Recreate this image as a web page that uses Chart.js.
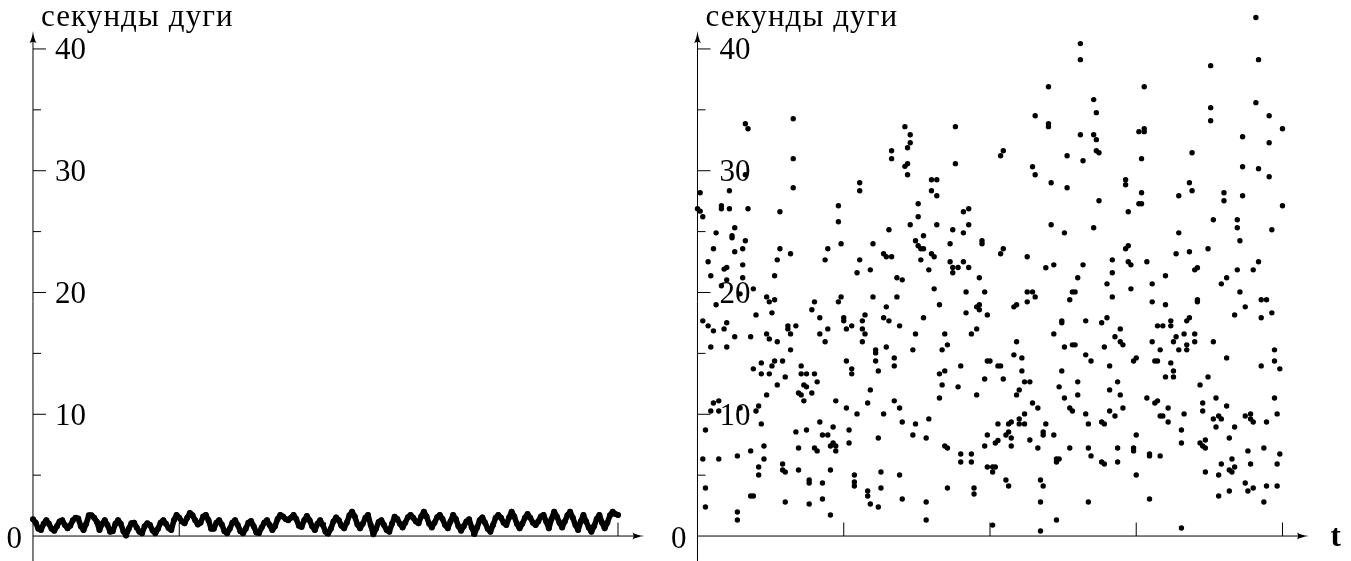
<!DOCTYPE html>
<html>
<head>
<meta charset="utf-8">
<title>секунды дуги</title>
<style>
  html, body { margin: 0; padding: 0; background: #fff; width: 1351px; height: 561px; overflow: hidden; }
  canvas { position: absolute; top: 0; }
  #left-chart  { left: 0; }
  #right-chart { left: 660px; }
</style>
<script src="https://cdn.jsdelivr.net/npm/chart.js@4/dist/chart.umd.min.js"></script>
</head>
<body>
<canvas id="left-chart" width="660" height="561"></canvas>
<canvas id="right-chart" width="691" height="561"></canvas>
<script>
// ------------------------------------------------------------------
// Data
// ------------------------------------------------------------------

const yTitle = "секунды дуги";
const xTitle = "t";
const yLabels = [0, 10, 20, 30, 40];
const yMinorTicks = [5, 15, 25, 35];
const xTicks = [55, 110, 165, 220];

// left panel: one value per time step, position in the array is t
const leftValues = [
  1.37,1.1,.6,.5,1.0,1.3,1.0,.6,.44,.8,1.2,1.3,.9,.63,.85,1.3,1.5,1.45,.8,.49,
  1.0,1.7,1.7,1.5,1.18,.5,1.0,1.3,.9,.35,.4,1.0,1.3,1.0,.4,.05,.6,1.05,1.1,.7,
  .35,.22,.8,1.05,.9,.45,.22,.6,1.1,1.3,1.0,.65,.5,1.3,1.73,1.5,1.2,1.04,1.5,1.9,
  1.7,1.3,.95,1.1,1.6,1.73,1.3,.6,.6,1.1,1.3,.95,.4,.22,.6,1.1,1.3,.9,.4,.22,
  .6,1.1,1.23,.8,.3,.25,.7,1.1,1.3,.9,.49,.8,1.4,1.73,1.6,1.4,1.3,1.5,1.73,1.4,
  .85,.75,1.3,1.64,1.3,.8,.49,1.0,1.3,.9,.35,.2,.6,1.2,1.53,1.3,.85,.63,1.1,1.7,
  2.0,1.6,.95,.63,1.0,1.5,1.73,.9,.14,.6,1.15,1.3,.9,.5,.36,1.0,1.59,1.4,1.0,.71,
  1.1,1.55,1.73,1.5,1.2,1.04,1.6,2.0,1.6,1.0,.71,1.1,1.55,1.73,1.4,.9,.63,1.2,1.73,1.4,
  .8,.44,.8,1.2,1.37,.7,.16,.7,1.3,1.53,1.1,.6,.36,.9,1.5,1.73,1.5,1.1,.9,1.5,
  2.0,1.6,1.0,.63,1.0,1.5,1.8,1.5,1.1,.9,1.2,1.6,1.73,1.2,.63,1.4,2.0,1.6,1.1,.71,
  1.2,1.7,2.0,1.5,.9,.49,1.2,1.73,1.2,.7,.36,.8,1.4,1.73,1.1,.63,1.1,1.7,2.0,1.8,
  1.73,
];

// right panel: scattered readings, several per time step
const rightT = [
  18,19,36,36,36,18,1,12,0,1,
  2,9,9,12,19,31,7,14,13,13,
  18,6,14,17,31,30,35,4,17,10,
  11,5,17,29,11,48,49,54,53,53,
  61,61,66,61,60,65,70,71,73,72,
  73,73,78,80,80,79,79,78,79,83,
  83,80,82,85,83,84,85,84,88,89,
  87,75,77,88,90,88,90,90,97,97,
  100,102,96,100,102,95,107,107,95,96,
  98,96,100,102,106,
  115,114,115,114,144,144,132,210,211,193,
  168,149,150,127,132,132,144,149,150,150,
  151,166,168,168,167,139,145,126,127,133,
  139,151,161,161,167,166,167,162,133,138,
  149,162,161,124,131,134,145,143,156,156,
  162,163,169,176,186,185,186,181,181,180,
  185,192,187,188,193,193,194,198,198,205,
  205,205,203,203,204,199,203,209,211,210,
  215,220,215,211,215,220,216,
  9,16,21,26,27,29,7,22,28,2,
  4,6,10,11,14,20,5,11,26,27,
  30,34,34,37,35,35,24,21,28,29,
  32,24,27,33,30,26,6,8,23,5,
  8,22,16,3,24,2,8,15,20,25,
  25,23,23,3,3,15,15,20,21,32,
  32,33,33,38,42,42,42,47,47,50,
  50,38,37,41,44,45,46,47,49,51,
  50,51,52,52,57,57,39,39,41,44,
  45,40,41,38,39,43,40,52,56,60,
  44,43,46,46,48,49,53,54,55,55,
  56,58,62,63,62,63,62,66,71,70,
  72,75,76,67,67,71,56,58,58,67,
  68,74,74,65,64,74,76,70,77,82,
  87,68,81,86,93,94,99,103,99,103,
  59,59,59,69,76,69,64,64,65,68,
  77,86,86,94,104,104,111,109,111,112,
  111,108,109,112,113,113,82,81,85,89,
  91,93,92,94,91,93,99,92,98,91,
  101,108,101,105,106,106,109,103,105,109,
  110,108,105,113,
  154,163,171,197,124,126,124,127,119,120,
  141,142,140,156,171,176,188,188,204,206,
  202,212,214,212,216,137,137,146,152,154,
  134,159,157,159,160,138,141,142,153,120,
  119,122,122,114,115,123,125,121,120,146,
  148,155,137,143,136,143,138,155,158,159,
  126,128,123,121,121,123,118,117,140,141,
  146,147,152,153,155,157,160,131,130,130,
  134,117,116,118,118,125,128,140,147,148,
  152,153,158,158,135,136,135,116,117,129,
  130,129,147,135,129,165,164,164,165,170,
  170,174,170,182,182,182,169,172,173,177,
  183,174,175,177,164,165,172,173,178,179,
  176,179,171,174,181,184,184,179,180,183,
  187,187,194,173,175,178,178,184,185,199,
  192,189,190,190,195,199,194,196,197,195,
  202,200,189,190,191,191,191,197,196,201,
  202,200,201,196,200,206,208,208,209,214,
  218,217,212,217,219,217,207,213,219,208,
  218,206,207,209,214,218,213,
];
const rightY = [
  33.86,33.45,34.27,30.99,28.6,29.67,28.19,28.36,26.88,26.68,
  26.22,27.12,26.88,26.88,26.88,26.63,24.9,25.32,24.66,24.49,
  24.25,23.59,23.34,23.59,23.59,22.68,23.18,22.52,22.27,21.92,
  22.05,21.37,21.21,21.37,21.04,22.68,23.59,24.0,27.12,25.81,
  29.01,28.36,24.0,22.68,21.62,21.86,23.18,22.93,22.93,25.15,
  31.64,30.99,33.62,32.96,32.3,31.89,30.58,30.36,29.67,27.29,
  26.22,25.56,24.25,24.66,23.84,23.59,23.59,22.68,23.18,22.93,
  21.86,21.21,21.04,29.26,29.26,28.36,27.95,25.56,33.62,30.58,
  26.63,26.88,25.15,24.9,25.56,24.0,24.25,24.0,22.52,22.05,
  22.05,21.62,22.52,22.05,21.21,
  31.64,31.23,23.59,23.18,40.44,39.12,36.9,42.58,39.12,38.63,
  36.9,35.84,34.77,34.52,33.86,33.62,32.96,32.96,32.55,31.64,
  31.48,33.21,33.45,33.21,30.99,31.23,30.82,30.33,29.67,29.01,
  28.6,27.53,29.26,28.85,28.19,27.29,27.29,26.63,25.56,24.9,
  25.32,23.84,23.59,22.93,22.03,22.27,22.27,21.21,22.68,21.62,
  22.52,22.27,22.52,21.37,31.48,29.01,28.36,27.95,24.9,23.18,
  23.34,23.59,21.86,22.03,35.18,34.11,25.97,28.19,27.53,32.79,
  30.33,27.95,25.97,25.32,24.25,21.21,21.86,21.86,22.52,35.59,
  34.52,33.45,32.3,30.16,29.51,27.12,25.15,
  20.55,19.89,20.3,19.64,19.23,19.4,18.99,18.16,18.33,17.67,
  17.26,16.85,17.01,17.51,16.36,16.36,15.53,15.53,16.6,16.19,
  15.95,17.26,17.01,17.26,16.6,15.29,14.22,13.73,13.97,14.38,
  14.38,13.32,13.32,13.07,12.41,11.59,10.93,11.1,10.68,10.27,
  10.27,10.27,10.52,8.71,9.21,6.33,6.33,6.58,6.99,7.4,
  6.33,5.67,5.01,3.95,2.38,1.97,1.32,3.29,3.29,5.92,
  5.42,5.26,2.79,5.42,4.6,4.36,2.63,4.36,3.04,5.42,
  1.73,7.23,8.55,8.71,7.23,6.99,9.37,8.3,8.3,8.96,
  7.4,7.64,7.4,6.99,8.71,7.64,13.97,13.32,13.32,13.32,
  12.66,12.41,12.25,11.75,11.59,11.75,11.1,11.1,10.52,10.03,
  19.23,18.58,17.92,16.6,15.95,17.01,19.23,19.64,17.92,17.67,
  17.01,17.26,17.67,18.16,17.01,16.6,15.95,19.64,18.82,17.92,
  17.67,19.64,17.26,15.29,15.04,15.53,14.38,13.73,13.32,14.38,
  13.56,14.63,13.97,12.0,10.93,11.1,10.52,10.03,9.37,9.21,
  9.62,8.05,8.3,8.05,7.4,7.23,6.74,6.74,6.08,6.08,
  5.01,4.44,4.11,5.26,5.01,3.95,3.7,3.29,2.63,2.38,
  3.04,2.79,1.32,3.95,3.95,3.45,.9,5.67,5.67,5.67,
  5.26,7.4,8.3,7.64,7.84,9.21,16.6,15.29,17.92,20.3,
  18.99,16.6,15.29,15.7,13.32,13.56,13.97,12.41,12.25,11.34,
  20.05,20.05,18.33,18.82,18.99,18.58,18.16,16.6,17.01,14.38,
  14.38,12.9,11.59,13.97,
  20.71,20.3,20.71,20.71,20.05,20.05,19.23,19.64,18.82,18.99,
  20.05,20.05,19.4,19.64,19.23,18.99,19.4,19.23,20.05,18.82,
  18.16,19.4,19.4,17.92,18.33,17.67,17.51,17.67,17.51,17.92,
  16.6,17.01,16.36,15.95,15.7,15.53,15.7,15.7,15.53,15.95,
  14.88,14.63,13.56,13.97,12.9,12.66,12.66,12.0,11.59,14.88,
  14.38,13.97,13.56,12.66,12.25,11.59,11.34,12.0,12.66,11.59,
  10.93,10.52,10.03,9.62,9.21,9.21,9.37,9.21,10.52,10.27,
  10.03,9.21,9.37,9.21,10.27,9.86,10.52,9.21,8.55,8.3,
  8.3,8.55,8.3,8.05,7.4,7.89,7.23,7.23,7.23,6.58,
  6.08,5.92,7.23,6.08,6.33,6.33,6.08,4.6,4.11,4.6,
  4.11,2.79,2.79,1.32,.41,8.3,7.23,6.99,5.01,6.74,
  6.58,6.58,3.04,.66,8.71,7.64,11.34,10.93,11.1,10.52,
  10.03,9.86,9.86,9.37,14.38,14.63,14.38,14.38,14.22,13.56,
  13.07,13.07,15.95,15.29,15.29,15.29,15.7,15.95,16.36,16.6,
  16.6,15.95,15.95,17.26,17.26,17.67,17.26,17.67,17.92,14.63,
  13.07,12.41,10.93,10.27,11.34,10.68,9.62,9.86,9.62,8.96,
  8.96,8.05,7.64,7.4,7.23,7.89,5.26,5.92,5.01,6.33,
  5.67,5.42,5.26,3.29,3.7,9.86,10.03,9.62,9.37,9.37,
  10.03,11.34,13.97,14.38,13.73,15.29,6.99,7.23,6.74,5.92,
  5.92,4.36,3.7,3.95,4.11,4.11,2.79,
];

// ------------------------------------------------------------------
// Axes: TeX style, crossing at (0, 0), drawn from the chart's scales
// ------------------------------------------------------------------

const SERIF = '"Liberation Serif", serif';

function axisPlugin(cfg) {
  return {
    id: "texAxes",
    beforeDatasetsDraw(chart) {
      const { ctx } = chart;
      const x = chart.scales.x, y = chart.scales.y;
      const x0 = x.getPixelForValue(0);
      const y0 = y.getPixelForValue(0);
      const yTop = y.getPixelForValue(40) - 7;
      const xEnd = x.getPixelForValue(220) + 15.5;

      ctx.save();
      // axis lines
      ctx.lineWidth = 1;
      ctx.strokeStyle = "#000";
      ctx.beginPath();
      ctx.moveTo(x0, chart.height);
      ctx.lineTo(x0, yTop);
      ctx.moveTo(x0, y0);
      ctx.lineTo(xEnd, y0);
      ctx.stroke();

      // arrow heads
      ctx.fillStyle = "#000";
      ctx.beginPath();
      ctx.moveTo(x0, yTop - 11);
      ctx.quadraticCurveTo(x0 + 1, yTop - 3, x0 + 3.5, yTop + 1);
      ctx.quadraticCurveTo(x0, yTop - 1, x0 - 3.5, yTop + 1);
      ctx.quadraticCurveTo(x0 - 1, yTop - 3, x0, yTop - 11);
      ctx.fill();
      ctx.beginPath();
      ctx.moveTo(xEnd + 11, y0);
      ctx.quadraticCurveTo(xEnd + 3, y0 + 1, xEnd - 1, y0 + 3.5);
      ctx.quadraticCurveTo(xEnd + 1, y0, xEnd - 1, y0 - 3.5);
      ctx.quadraticCurveTo(xEnd + 3, y0 - 1, xEnd + 11, y0);
      ctx.fill();

      // ticks
      ctx.beginPath();
      yLabels.filter(v => v > 0).forEach(v => {
        const py = y.getPixelForValue(v);
        ctx.moveTo(x0, py);
        ctx.lineTo(x0 + 13, py);
      });
      yMinorTicks.forEach(v => {
        const py = y.getPixelForValue(v);
        ctx.moveTo(x0, py);
        ctx.lineTo(x0 + 8, py);
      });
      xTicks.forEach(v => {
        const px = x.getPixelForValue(v);
        ctx.moveTo(px, y0);
        ctx.lineTo(px, y0 - 13.5);
      });
      ctx.stroke();

      // labels
      ctx.font = "31px " + SERIF;
      ctx.textBaseline = "alphabetic";
      yLabels.forEach(v => {
        const py = y.getPixelForValue(v) + 10.5;
        if (v === 0) {
          ctx.textAlign = "right";
          ctx.fillText(String(v), x0 - 11, py + 1);
        } else {
          ctx.textAlign = "left";
          ctx.fillText(String(v), x0 + 22, py);
        }
      });
      ctx.textAlign = "left";
      ctx.font = "31px " + SERIF;
      ctx.letterSpacing = "1.1px";
      ctx.fillText(yTitle, x0 + 8, 26);
      ctx.letterSpacing = "0px";
      if (cfg.showT) {
        ctx.font = "bold 31px " + SERIF;
        ctx.fillText(xTitle, x.getPixelForValue(220) + 48, y0 + 10);
      }
      ctx.restore();
    },
  };
}

function makeChart(id, points, cfg) {
  return new Chart(document.getElementById(id), {
    type: "scatter",
    data: {
      datasets: [{
        data: points,
        backgroundColor: "#000",
        borderColor: "#000",
        borderWidth: cfg.band,
        borderJoinStyle: "round",
        borderCapStyle: "round",
        showLine: cfg.band > 0,   // left panel reads as one thick band of dots
        pointRadius: cfg.radius,
        pointBorderWidth: 0,
        clip: false,
      }],
    },
    options: {
      responsive: false,
      animation: false,
      layout: { padding: 0, autoPadding: false },
      plugins: { legend: { display: false }, tooltip: { enabled: false } },
      scales: {
        x: { type: "linear", display: false, min: cfg.xMin, max: cfg.xMax },
        y: { type: "linear", display: false, min: -2.05, max: 44.02 },
      },
    },
    plugins: [axisPlugin(cfg)],
  });
}

makeChart("left-chart", leftValues.map((v, i) => ({ x: i, y: v })),
  { xMin: -12.41, xMax: 235.8, band: 5.5, radius: 3, showT: false });
makeChart("right-chart", rightT.map((t, i) => ({ x: t, y: rightY[i] })),
  { xMin: -14.1, xMax: 245.77, band: 0, radius: 2.7, showT: true });
</script>
</body>
</html>
